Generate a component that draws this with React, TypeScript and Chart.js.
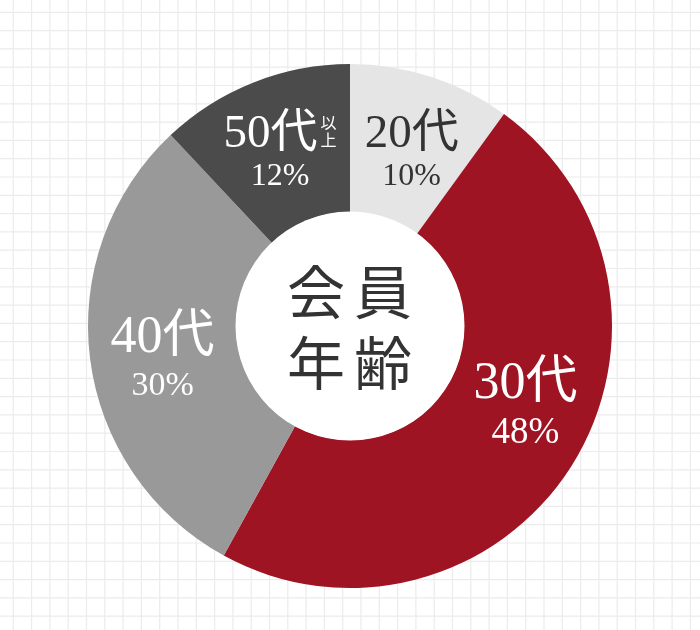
import React, { useEffect, useRef } from "react";
import { Chart, registerables } from "chart.js";

Chart.register(...registerables);

// ---- data ----
const categories = ["20代", "30代", "40代", "50代以上"];
const shares = [10, 48, 30, 12];
const percentLabels = ["10%", "48%", "30%", "12%"];
const centerTitleRows = ["会員", "年齢"];

// ---- styles ----
const sliceColors = ["#e5e5e5", "#9e1423", "#999999", "#4b4b4b"];
const labelColors = ["#333333", "#ffffff", "#ffffff", "#ffffff"];
const nameSizes = [47, 52, 52, 47];
const pctSizes = [32, 37, 34, 32];
const labelDx = [3, 15, 1, 0];
const nameDy = [2, -30, 2, -2];
const pctDy = [40, 15, 45, 36];
const LABEL_RADIUS = 0.725;
const SERIF = "'Liberation Serif', 'Noto Sans CJK JP', serif";
const CJK = "'Noto Sans CJK JP', sans-serif";
const GRID_STEP = 18.3;
const GRID_X0 = 13.3;
const GRID_Y0 = 12.3;

const gridPlugin = {
  id: "gridBg",
  beforeDraw(chart: any) {
    const { ctx, width, height } = chart;
    ctx.save();
    ctx.fillStyle = "#ffffff";
    ctx.fillRect(0, 0, width, height);
    ctx.strokeStyle = "#ececec";
    ctx.lineWidth = 1.2;
    ctx.beginPath();
    for (let x = GRID_X0; x < width; x += GRID_STEP) {
      ctx.moveTo(x, 0);
      ctx.lineTo(x, height);
    }
    for (let y = GRID_Y0; y < height; y += GRID_STEP) {
      ctx.moveTo(0, y);
      ctx.lineTo(width, y);
    }
    ctx.stroke();
    ctx.restore();
  },
};

const labelPlugin = {
  id: "sliceLabels",
  afterDatasetsDraw(chart: any) {
    const { ctx } = chart;
    const meta = chart.getDatasetMeta(0);
    if (!meta.data.length) return;
    const first = meta.data[0].getProps(["x", "y", "innerRadius", "outerRadius"], true);
    const cx = first.x;
    const cy = first.y;
    ctx.save();
    // white centre disc
    ctx.beginPath();
    ctx.arc(cx, cy, first.innerRadius + 0.5, 0, Math.PI * 2);
    ctx.fillStyle = "#ffffff";
    ctx.fill();

    // centre title
    ctx.fillStyle = "#333333";
    ctx.font = `58px ${CJK}`;
    ctx.textAlign = "center";
    ctx.textBaseline = "middle";
    const rowYs = [-36, 35];
    const colXs = [-34, 33];
    centerTitleRows.forEach((row, r) => {
      Array.from(row).forEach((ch, c) => {
        ctx.fillText(ch, cx + colXs[c], cy + rowYs[r] + 2);
      });
    });

    // slice labels
    ctx.textBaseline = "alphabetic";
    meta.data.forEach((arc: any, i: number) => {
      const p = arc.getProps(["startAngle", "endAngle", "outerRadius"], true);
      const mid = (p.startAngle + p.endAngle) / 2;
      const r = p.outerRadius * LABEL_RADIUS;
      const ax = cx + r * Math.cos(mid) + labelDx[i];
      const ay = cy + r * Math.sin(mid);
      ctx.fillStyle = labelColors[i];
      const label = categories[i];
      const suffix = label.endsWith("以上") ? "以上" : "";
      const main = suffix ? label.slice(0, -2) : label;
      ctx.font = `${nameSizes[i]}px ${SERIF}`;
      const wMain = ctx.measureText(main).width;
      if (suffix) {
        const small = 16;
        const gap = 3;
        const total = wMain + gap + small;
        const left = ax - total / 2;
        ctx.textAlign = "left";
        ctx.fillText(main, left, ay + nameDy[i]);
        ctx.font = `${small}px ${CJK}`;
        ctx.textAlign = "center";
        const sx = left + wMain + gap + small / 2;
        ctx.fillText(suffix[0], sx, ay + nameDy[i] - 18);
        ctx.fillText(suffix[1], sx, ay + nameDy[i] - 1);
      } else {
        ctx.textAlign = "center";
        ctx.fillText(main, ax, ay + nameDy[i]);
      }
      ctx.textAlign = "center";
      ctx.font = `${pctSizes[i]}px ${SERIF}`;
      ctx.fillText(percentLabels[i], ax, ay + pctDy[i]);
    });
    ctx.restore();
  },
};

export default function App() {
  const canvasRef = useRef<HTMLCanvasElement | null>(null);

  useEffect(() => {
    if (!canvasRef.current) return;
    const chart = new Chart(canvasRef.current, {
      type: "doughnut",
      data: {
        labels: categories,
        datasets: [
          {
            data: shares,
            backgroundColor: sliceColors,
            borderWidth: 0,
            hoverOffset: 0,
          },
        ],
      },
      options: {
        responsive: false,
        animation: false,
        cutout: 114,
        rotation: 0,
        layout: { padding: { top: 64, bottom: 42, left: 0, right: 0 } },
        plugins: {
          legend: { display: false },
          tooltip: { enabled: false },
        },
        events: [],
      },
      plugins: [gridPlugin, labelPlugin],
    });
    return () => chart.destroy();
  }, []);

  return (
    <div style={{ position: "absolute", left: 0, top: 0, width: 700, height: 630 }}>
      <canvas ref={canvasRef} width={700} height={630} style={{ display: "block" }} />
    </div>
  );
}
